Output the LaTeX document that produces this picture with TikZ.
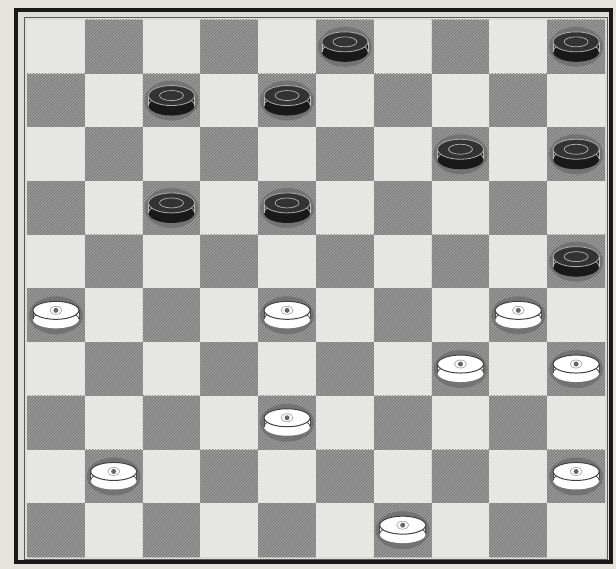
\documentclass[tikz,border=0pt]{standalone}
\usetikzlibrary{patterns}
\definecolor{paper}{HTML}{E6E4DC}
\definecolor{lightsq}{HTML}{E6E6E2}
\definecolor{darksq}{HTML}{9C9C9C}
\definecolor{hatch}{HTML}{6E6E6E}
\tikzset{
  darksquare/.style={fill=darksq, postaction={pattern=north east lines, pattern color=hatch}},
  lightsquare/.style={fill=lightsq},
  darkpiece/.pic={
    \fill[black!55] (0,1) ellipse (27 and 20);
    \fill[black!90] (0,6) ellipse (23 and 10);
    \fill[black!90] (-23,-4) rectangle (23,6);
    \draw[gray!55, line width=0.7pt] (-23,-4) -- (-23,6) (23,-4) -- (23,6);
    \draw[gray!55, line width=0.7pt] (-23,6) arc[start angle=180, end angle=0, x radius=23, y radius=-10];
    \fill[black!80] (0,-4) ellipse (23 and 10);
    \draw[gray!65, line width=0.8pt] (0,-4) ellipse (23 and 10);
    \draw[gray!60, line width=0.7pt] (0,-4) ellipse (12 and 5);
  },
  lightpiece/.pic={
    \fill[black!55] (0,1) ellipse (27 and 19);
    \fill[white] (0,5) ellipse (23 and 9);
    \fill[white] (-23,-4) rectangle (23,5);
    \draw[black!70, line width=0.8pt] (-23,-4) -- (-23,5) (23,-4) -- (23,5);
    \draw[black!70, line width=0.8pt] (-23,5) arc[start angle=180, end angle=0, x radius=23, y radius=-9];
    \fill[white] (0,-4) ellipse (23 and 9);
    \draw[black!75, line width=1pt] (0,-4) ellipse (23 and 9);
    \draw[gray!70, line width=0.7pt] (0,-4) ellipse (6 and 4);
    \fill[gray!80!black] (0,-4) circle (2.5);
  }
}
\begin{document}
\begin{tikzpicture}[x=1pt,y=-1pt]
\useasboundingbox (0,0) rectangle (616,569);
\fill[paper] (0,0) rectangle (616,569);
\fill[lightsq!90!gray] (16,10) rectangle (611,562);
\foreach \r in {0,...,9} {
  \foreach \c in {0,...,9} {
    \pgfmathtruncatemacro\p{mod(\r+\c,2)}
    \pgfmathsetmacro\xa{27+\c*57.8}
    \pgfmathsetmacro\ya{20+\r*53.7}
    \ifnum\p=1
      \path[darksquare] (\xa,\ya) rectangle ++(57.8,53.7);
    \else
      \path[lightsquare] (\xa,\ya) rectangle ++(57.8,53.7);
    \fi
  }
}
\draw[line width=0.9pt, black!65] (24,17) rectangle (607,559);
\draw[line width=4pt, black!90] (16,10) rectangle (611,562);
\foreach \r/\c in {0/5,0/9,1/2,1/4,2/7,2/9,3/2,3/4,4/9} {
  \pic at ({27+(\c+0.5)*57.8},{20+(\r+0.5)*53.7-1}) {darkpiece};
}
\foreach \r/\c in {5/0,5/4,5/8,6/7,6/9,7/4,8/1,8/9,9/6} {
  \pic at ({27+(\c+0.5)*57.8},{20+(\r+0.5)*53.7-1}) {lightpiece};
}
\end{tikzpicture}
\end{document}
